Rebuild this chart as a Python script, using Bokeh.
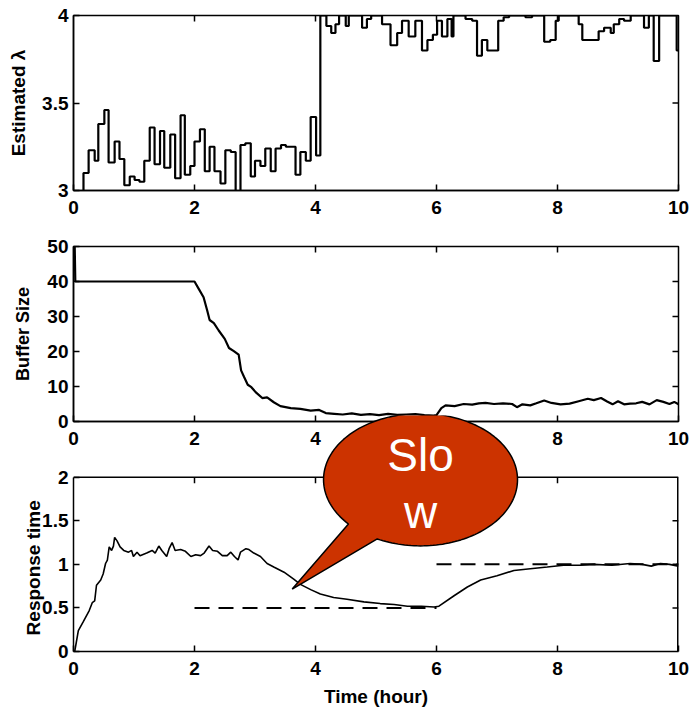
import numpy as np
from bokeh.plotting import figure
from bokeh.models import FixedTicker, Range1d
from bokeh.core.properties import value
from bokeh.layouts import column
from bokeh.embed import file_html
from bokeh.resources import INLINE

FONT = "Liberation Sans"
W = 690

# ---------------- data ----------------
x_ticks = [0, 2, 4, 6, 8, 10]
lam_ticks = [3, 3.5, 4]
lam_tick_labels = ["3", "3.5", "4"]
buf_ticks = [0, 10, 20, 30, 40, 50]
rt_ticks = [0, 0.5, 1, 1.5, 2]
rt_tick_labels = ["0", "0.5", "1", "1.5", "2"]

# estimated lambda (step series): step start times and values
t_lam = [0.0, 0.165, 0.25, 0.35, 0.41, 0.51, 0.58, 0.68, 0.76, 0.84, 0.93, 1.01, 1.09, 1.17,
         1.26, 1.34, 1.43, 1.50, 1.60, 1.68, 1.77, 1.84, 1.93, 2.00, 2.09, 2.17, 2.25, 2.33,
         2.43, 2.51, 2.60, 2.68, 2.76, 2.84, 2.93, 3.00, 3.09, 3.17, 3.26, 3.34, 3.43, 3.51,
         3.59, 3.67, 3.75, 3.84, 3.92, 4.01, 4.08, 4.18, 4.26, 4.33, 4.39, 4.50, 4.55, 4.77,
         4.85, 4.92, 5.10, 5.24, 5.35, 5.43, 5.54, 5.65, 5.76, 5.85, 5.94, 6.01, 6.09, 6.18,
         6.25, 6.28, 6.48, 6.59, 6.67, 6.75, 6.84, 7.02, 7.11, 7.20, 7.47, 7.58, 7.78, 7.88,
         7.97, 8.02, 8.35, 8.41, 8.68, 8.77, 8.88, 8.93, 9.02, 9.10, 9.21, 9.43, 9.51, 9.59,
         9.68, 9.97, 10.0]
lam = [2.9, 3.10, 3.23, 3.17, 3.38, 3.46, 3.16, 3.28, 3.18, 3.03, 3.08, 3.06, 3.05, 3.17,
       3.36, 3.15, 3.34, 3.13, 3.32, 3.07, 3.43, 3.09, 3.14, 3.28, 3.35, 3.11, 3.25, 3.11,
       3.04, 3.23, 3.22, 2.9, 3.26, 3.27, 3.08, 3.17, 3.14, 3.24, 3.11, 3.24, 3.26, 3.25,
       3.25, 3.09, 3.22, 3.17, 3.42, 3.20, 4.0, 3.94, 3.90, 3.95, 4.0, 3.94, 4.0, 3.93,
       3.98, 4.0, 3.95, 3.83, 3.90, 3.97, 3.88, 3.97, 3.80, 3.86, 3.89, 3.97, 3.88, 3.98,
       3.88, 4.0, 3.98, 3.97, 3.77, 3.86, 3.80, 3.97, 3.99, 4.0, 3.99, 4.0, 3.85, 3.86,
       3.97, 4.0, 3.95, 3.86, 3.91, 3.93, 3.90, 3.95, 3.98, 3.97, 4.0, 3.93, 4.0, 3.74,
       4.0, 3.80, 3.80]

# buffer size
t_buf = [0.02, 0.03, 2.00, 2.07, 2.15, 2.21, 2.25, 2.32, 2.40, 2.50, 2.57, 2.65, 2.73, 2.77,
         2.82, 2.88, 2.94, 3.01, 3.12, 3.20, 3.31, 3.42, 3.59, 3.75, 3.92, 4.06, 4.17, 4.31,
         4.45, 4.60, 4.75, 4.90, 5.05, 5.20, 5.35, 5.50, 5.65, 5.80, 5.95, 6.00, 6.08, 6.15,
         6.30, 6.45, 6.59, 6.70, 6.81, 6.95, 7.10, 7.25, 7.33, 7.42, 7.55, 7.65, 7.78, 7.90,
         8.05, 8.20, 8.35, 8.50, 8.60, 8.72, 8.82, 8.91, 9.00, 9.10, 9.20, 9.30, 9.40, 9.52,
         9.64, 9.75, 9.85, 9.93, 10.0]
buf = [50, 40, 40, 37.9, 35.5, 31.7, 29.0, 28.1, 26.0, 23.6, 21.0, 20.1, 19.1, 14.6,
       12.7, 10.5, 9.8, 8.4, 6.7, 6.9, 5.5, 4.4, 3.8, 3.6, 3.1, 3.3, 2.4, 2.2,
       2.0, 2.3, 1.9, 2.1, 1.8, 2.2, 1.9, 2.0, 2.1, 1.8, 1.7, 1.8, 3.8, 4.6,
       4.4, 5.0, 4.8, 5.2, 5.3, 5.0, 5.2, 5.0, 4.1, 4.9, 4.6, 5.2, 6.0, 5.3,
       4.9, 5.1, 5.8, 6.5, 6.1, 6.7, 5.7, 4.9, 5.8, 4.9, 5.1, 5.2, 5.6, 4.9,
       6.1, 5.6, 5.0, 5.6, 4.9]

# response time
t_rt = [0.02, 0.08, 0.16, 0.26, 0.31, 0.35, 0.38, 0.45, 0.49, 0.53, 0.56, 0.59, 0.63, 0.66,
        0.68, 0.72, 0.77, 0.83, 0.91, 0.96, 0.99, 1.05, 1.10, 1.21, 1.30, 1.35, 1.41, 1.46,
        1.54, 1.58, 1.63, 1.68, 1.77, 1.85, 1.94, 2.02, 2.10, 2.16, 2.24, 2.30, 2.38, 2.46,
        2.54, 2.60, 2.66, 2.72, 2.76, 2.85, 2.90, 2.98, 3.09, 3.20, 3.31, 3.48, 3.64, 3.75,
        3.92, 4.08, 4.30, 4.52, 4.80, 5.07, 5.30, 5.52, 5.75, 5.96, 6.04, 6.29, 6.51, 6.73,
        7.00, 7.28, 7.55, 7.83, 8.10, 8.38, 8.60, 8.90, 9.20, 9.40, 9.55, 9.70, 9.85, 10.0]
rt = [0.00, 0.24, 0.34, 0.47, 0.56, 0.58, 0.76, 0.82, 0.89, 1.01, 1.05, 1.20, 1.16, 1.21,
      1.31, 1.27, 1.20, 1.16, 1.14, 1.16, 1.09, 1.14, 1.10, 1.13, 1.16, 1.13, 1.21, 1.16,
      1.09, 1.18, 1.25, 1.16, 1.17, 1.15, 1.09, 1.11, 1.10, 1.13, 1.21, 1.16, 1.15, 1.10,
      1.10, 1.14, 1.09, 1.05, 1.14, 1.18, 1.17, 1.13, 1.09, 1.01, 0.97, 0.91, 0.83, 0.77,
      0.71, 0.66, 0.62, 0.60, 0.57, 0.55, 0.54, 0.52, 0.52, 0.51, 0.52, 0.64, 0.74, 0.82,
      0.87, 0.93, 0.95, 0.97, 0.99, 0.99, 1.00, 0.99, 1.01, 1.00, 0.98, 1.01, 1.00, 0.98]

# dashed reference levels
ref_x0 = [2, 6]
ref_x1 = [6, 10]
ref_y = [0.5, 1.0]

# callout (in the response-time panel's data units)
callout_lines = ["Slo", "w"]
callout_line_y = [2.252, 1.600]
callout_color = "#CC3300"
bubble_cx, bubble_cy, bubble_a, bubble_b = 5.736, 1.972, 1.603, 0.760
tail_angles_deg = (243.5, 222.0)
tail_tip = (3.615, 0.717)

# ---------------- layout constants (px) ----------------
FRAME_H = 175          # height of each panel box
TICK = 6               # inward tick length
C_OVERLAP = 40         # bottom figure reaches up over the middle one's labels
NBSP = "\u00a0"


def style_axis(ax, ticks, standoff=10, overrides=None):
    ax.ticker = FixedTicker(ticks=ticks)
    ax.major_tick_in = TICK
    ax.major_tick_out = 0
    ax.minor_tick_line_color = None
    ax.minor_tick_in = 0
    ax.minor_tick_out = 0
    ax.axis_line_color = "black"
    ax.axis_line_width = 1.5
    ax.major_tick_line_color = "black"
    ax.major_tick_line_width = 1.5
    ax.major_label_text_font = FONT
    ax.major_label_text_font_style = "bold"
    ax.major_label_text_color = "black"
    ax.major_label_text_font_size = "19px"
    ax.major_label_standoff = standoff
    if overrides:
        ax.major_label_overrides = overrides
    ax.axis_label_text_font = FONT
    ax.axis_label_text_font_style = "bold"
    ax.axis_label_text_font_size = "19px"
    ax.axis_label_text_color = "black"


def make_fig(height, top, bottom, y0, y1):
    p = figure(width=W, height=height, x_range=Range1d(0, 10), y_range=Range1d(y0, y1),
               output_backend="svg", toolbar_location=None,
               min_border_left=73, min_border_right=12,
               min_border_top=top, min_border_bottom=bottom)
    p.grid.visible = False
    p.outline_line_color = "black"
    p.outline_line_width = 1.5
    p.background_fill_color = "white"
    p.border_fill_color = "white"
    return p


def inner_ticks(p, top_y, right_x, y_ticks):
    # ticks along the top edge, pointing down, and along the right edge, pointing left
    p.ray(x=x_ticks[1:-1], y=[top_y] * (len(x_ticks) - 2), length=TICK, length_units="screen",
          angle=-90, angle_units="deg", line_color="black", line_width=1.5)
    p.ray(x=[right_x] * (len(y_ticks) - 2), y=y_ticks[1:-1], length=TICK, length_units="screen",
          angle=180, angle_units="deg", line_color="black", line_width=1.5)


# ---------------- top: estimated lambda ----------------
pA = make_fig(225, 15, 35, 3, 4)
style_axis(pA.xaxis[0], x_ticks, 10)
style_axis(pA.yaxis[0], lam_ticks, 5,
           overrides={float(k): v for k, v in zip(lam_ticks, lam_tick_labels)})
pA.yaxis[0].axis_label = "Estimated λ"
pA.yaxis[0].axis_label_standoff = 10
pA.step(t_lam, lam, mode="after", line_width=2.2, color="black")
inner_ticks(pA, 4, 10, lam_ticks)

# ---------------- middle: buffer size ----------------
pB = make_fig(230, 21, 34, 0, 50)
style_axis(pB.xaxis[0], x_ticks, 10)
style_axis(pB.yaxis[0], buf_ticks, 5)
pB.yaxis[0].axis_label = "Buffer Size"
pB.yaxis[0].axis_label_standoff = 11
pB.yaxis[0].axis_label_text_font_size = "18px"
pB.line(t_buf, buf, line_width=2.2, color="black")
inner_ticks(pB, 50, 10, buf_ticks)

# ---------------- bottom: response time ----------------
C_FRAME_H = FRAME_H + 62                    # frame extends up under the callout
C_TOP = rt_ticks[-1] * C_FRAME_H / FRAME_H  # same px-per-unit as a 175 px panel
pC = make_fig(C_FRAME_H + 57, 0, 57, 0, C_TOP)
pC.margin = (-C_OVERLAP, 0, 0, 0)
pC.outline_line_color = None
pC.background_fill_alpha = 0
pC.border_fill_alpha = 0
style_axis(pC.xaxis[0], x_ticks, 10)
pC.xaxis[0].axis_label = "Time (hour)"
pC.xaxis[0].axis_label_standoff = 8
style_axis(pC.yaxis[0], rt_ticks, 5,
           overrides={float(k): v for k, v in zip(rt_ticks, rt_tick_labels)})
pC.yaxis[0].bounds = (rt_ticks[0], rt_ticks[-1])
# trailing no-break spaces centre the label on the 0..2 box instead of the taller frame
pC.yaxis[0].axis_label = "Response time" + NBSP * 13
pC.yaxis[0].axis_label_standoff = -5
# panel box: top and right edges
pC.segment(x0=[0], y0=[rt_ticks[-1]], x1=[10], y1=[rt_ticks[-1]], line_color="black", line_width=1.5)
pC.segment(x0=[10], y0=[rt_ticks[0]], x1=[10], y1=[rt_ticks[-1]], line_color="black", line_width=3)
inner_ticks(pC, rt_ticks[-1], 10, rt_ticks)

pC.line(t_rt, rt, line_width=1.6, color="black")
pC.segment(x0=ref_x0, y0=ref_y, x1=ref_x1, y1=ref_y, line_dash="15 9",
           line_width=2, color="black")

# speech bubble
th = np.radians(np.linspace(tail_angles_deg[0], tail_angles_deg[1] + 360, 180))
bx = list(bubble_cx + bubble_a * np.cos(th)) + [tail_tip[0]]
by = list(bubble_cy + bubble_b * np.sin(th)) + [tail_tip[1]]
pC.patch(bx, by, fill_color=callout_color, fill_alpha=1.0, line_color="black", line_width=1.5)
pC.text(x=[bubble_cx] * len(callout_lines), y=callout_line_y, text=callout_lines,
        text_color="white", text_font=value(FONT), text_font_size="46px",
        text_align="center", text_baseline="alphabetic")

layout = column(pA, pB, pC, spacing=0)
open("out.html", "w").write(file_html(layout, INLINE))
